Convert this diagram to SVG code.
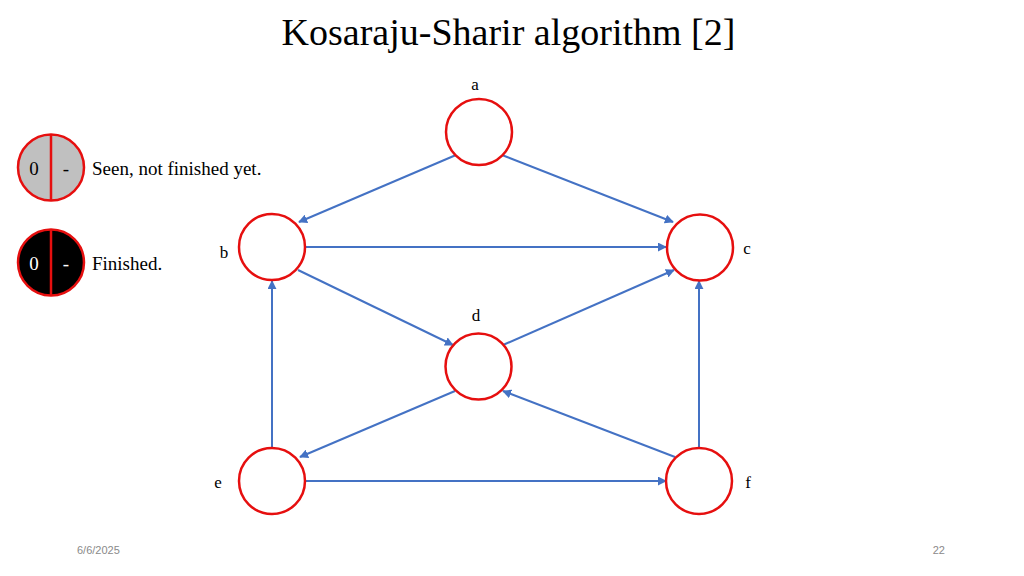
<svg xmlns="http://www.w3.org/2000/svg" width="1024" height="576" viewBox="0 0 1024 576">
<style>
.node{fill:#fff;stroke:#e60f0f;stroke-width:2.5}
.lbl{font-family:"Liberation Serif","Times New Roman",serif;font-size:17px;fill:#000}
.leg{font-family:"Liberation Serif","Times New Roman",serif;font-size:19px;fill:#000}
.edge{stroke:#4472c4;stroke-width:2;fill:none;marker-end:url(#ah)}
.foot{font-family:"Liberation Sans",Arial,sans-serif;font-size:11px;fill:#8a8a8a}
</style>
<defs>
<marker id="ah" viewBox="0 0 10 10" refX="9" refY="5" markerWidth="4.5" markerHeight="4.5" orient="auto" markerUnits="strokeWidth">
<path d="M0,0 L10,5 L0,10 z" fill="#4472c4"/>
</marker>
</defs>
<rect width="1024" height="576" fill="#fff"/>
<text x="508.5" y="45" text-anchor="middle" font-family="'Liberation Serif','Times New Roman',serif" font-size="38">Kosaraju-Sharir algorithm [2]</text>

<g id="legend-seen">
<circle cx="51" cy="167.5" r="33" fill="#c0c0c0" stroke="#e60f0f" stroke-width="2.5"/>
<line x1="51" y1="134.5" x2="51" y2="200.5" stroke="#e60f0f" stroke-width="2.5"/>
<text x="34" y="175" text-anchor="middle" class="leg">0</text>
<text x="66" y="175" text-anchor="middle" class="leg">-</text>
<text x="92" y="175" class="leg">Seen, not finished yet.</text>
</g>
<g id="legend-finished">
<circle cx="51" cy="262.5" r="33" fill="#000" stroke="#e60f0f" stroke-width="2.5"/>
<line x1="51" y1="229.5" x2="51" y2="295.5" stroke="#e60f0f" stroke-width="2.5"/>
<text x="34" y="270" text-anchor="middle" class="leg" style="fill:#fff">0</text>
<text x="66" y="270" text-anchor="middle" class="leg" style="fill:#fff">-</text>
<text x="92" y="270" class="leg">Finished.</text>
</g>

<g id="connectors">
<line class="edge" x1="456" y1="155" x2="299" y2="222"/>
<line class="edge" x1="502" y1="155" x2="673" y2="222"/>
<line class="edge" x1="306" y1="247" x2="666" y2="247"/>
<line class="edge" x1="298" y1="270" x2="453" y2="345"/>
<line class="edge" x1="503" y1="345" x2="674" y2="270"/>
<line class="edge" x1="455" y1="391" x2="300" y2="457"/>
<line class="edge" x1="675" y1="457" x2="503" y2="391"/>
<line class="edge" x1="306" y1="481" x2="666" y2="481"/>
<line class="edge" x1="272" y1="447" x2="272" y2="281"/>
<line class="edge" x1="699" y1="447" x2="699" y2="281"/>
</g>

<g id="node-a"><circle class="node" cx="479" cy="132" r="33"/><text class="lbl" x="475" y="90" text-anchor="middle">a</text></g>
<g id="node-b"><circle class="node" cx="272" cy="247" r="33"/><text class="lbl" x="224" y="258" text-anchor="middle">b</text></g>
<g id="node-c"><circle class="node" cx="700" cy="247.5" r="33"/><text class="lbl" x="747" y="254" text-anchor="middle">c</text></g>
<g id="node-d"><circle class="node" cx="478.5" cy="366.5" r="33"/><text class="lbl" x="476" y="321" text-anchor="middle">d</text></g>
<g id="node-e"><circle class="node" cx="272" cy="481" r="33"/><text class="lbl" x="218" y="488" text-anchor="middle">e</text></g>
<g id="node-f"><circle class="node" cx="699" cy="481" r="33"/><text class="lbl" x="748" y="488" text-anchor="middle">f</text></g>

<text class="foot" x="77" y="554">6/6/2025</text>
<text class="foot" x="945" y="554" text-anchor="end">22</text>
</svg>
